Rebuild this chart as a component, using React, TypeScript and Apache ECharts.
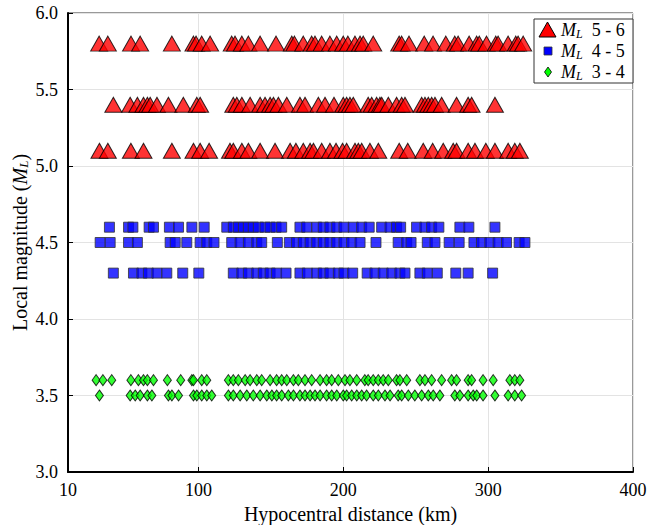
import React, { useEffect, useRef } from "react";
import * as echarts from "echarts";

// Hypocentral distances (km) for each magnitude row
const dist58 = [31.5, 37.5, 53.5, 59.8, 81.7, 96.6, 98.4, 102.3, 108.1, 123, 125.3, 130, 134.5, 142.6, 153.6, 164.5, 166.3, 172.4, 178.2, 180.5, 185.1, 190.8, 195.5, 200, 203.2, 208.1, 211.6, 213.8, 220.7, 238.6, 240.3, 245.4, 255.9, 262, 270.8, 277, 279.3, 286.9, 292.1, 293.9, 298.9, 305.3, 306.9, 313.8, 319.1, 320.7, 324.2];
const dist54 = [41.3, 52.9, 57.9, 62.1, 64.8, 66.7, 71.4, 79.3, 89.6, 98.9, 101.2, 124.1, 126.5, 130, 135.7, 142.6, 146, 149.5, 151.8, 155.2, 161, 170.1, 173.6, 182.8, 187.4, 193.6, 200, 202.3, 204.6, 206.9, 217.2, 219.6, 223, 225.3, 226.5, 231.1, 236.8, 240.3, 242.6, 254.1, 256.4, 258.7, 261, 263.3, 267.9, 278.2, 286.2, 288.6, 304.7];
const dist51 = [31.7, 37.5, 53.4, 62.1, 81.7, 96.6, 101.2, 107.4, 121.8, 124.1, 130, 134.5, 142.6, 152.9, 163.3, 167.3, 172.4, 177.1, 179.4, 185.1, 190.8, 195, 199.5, 202.3, 208.1, 210.4, 212.7, 218.4, 224.2, 238.6, 244.5, 255.2, 261.7, 269, 275.9, 278.2, 286.2, 290.9, 298.4, 304.7, 313.8, 318.4, 321.9];
const dist46 = [38.6, 51.8, 54.8, 66, 69, 80, 86.3, 95.5, 104, 119.6, 124.1, 127.6, 131.1, 134.5, 137.9, 141.4, 146, 149.5, 153.6, 157.5, 170.1, 174.8, 181.7, 186.2, 190.8, 195.5, 200.5, 206.9, 212.7, 217.9, 226.5, 232.3, 236.8, 239.6, 250.6, 256.4, 261, 266, 280.5, 286.7, 304.7];
const dist45 = [32.2, 39.1, 51.8, 57.9, 80.5, 84, 92, 101.2, 105.8, 110.8, 123, 128.8, 134.5, 140.3, 143.7, 154.5, 162.8, 167.8, 172.4, 177.1, 181.7, 186.2, 190.8, 195.5, 200.5, 205.8, 211.6, 222.6, 237.9, 243.8, 246.8, 258, 263.3, 273.1, 280, 290.2, 295.4, 301.2, 306.9, 312.7, 321.4, 325.4];
const dist43 = [41.3, 55.2, 61, 65.5, 71.4, 78.2, 89.2, 100.3, 124.1, 130, 134.5, 140.3, 144.8, 149.5, 154, 160.5, 170.1, 175.2, 181.7, 186.2, 190.8, 196.6, 200.5, 206.5, 216.5, 221.9, 227.6, 233.5, 239.1, 242.6, 252.9, 258, 264.9, 277.7, 286.2, 303.1];
const dist36 = [29.4, 34.1, 40.2, 53.4, 58.6, 62.1, 64.8, 69, 78.6, 87.8, 95.5, 96.6, 102.3, 105.8, 120.7, 124.1, 127.6, 132.3, 135.7, 140.3, 143.7, 149.5, 154, 157.5, 161, 165.6, 169, 173.6, 178.2, 184, 188.5, 192, 196.6, 201.2, 204.6, 209.3, 214.9, 217.2, 220.7, 224.2, 227.6, 231.1, 236.8, 239.1, 243.8, 252.9, 256.4, 261, 267.9, 274.8, 278.2, 286.2, 288.6, 296.5, 303.5, 315, 318.4, 321.9];
const dist35 = [31.7, 52.9, 56.4, 59.8, 64.8, 67.9, 79.3, 81.7, 86.3, 96.6, 98.9, 102.3, 105.8, 109.2, 120.7, 124.1, 128.8, 133.4, 137.9, 142.6, 147.2, 150.7, 154, 157.5, 162.1, 165.6, 170.1, 173.6, 177.1, 180.5, 184, 188.5, 192, 195.5, 200, 202.3, 205.8, 209.3, 212.7, 216.1, 220.7, 224.2, 228.8, 232.3, 237.9, 240.3, 244.9, 249.4, 254.1, 258.7, 262.1, 266.7, 277, 280.5, 286.2, 289.7, 292.1, 296.5, 304.7, 313.8, 318.4, 323.1];

const redRows: [number, number[]][] = [[5.8, dist58], [5.4, dist54], [5.1, dist51]];
const blueRows: [number, number[]][] = [[4.6, dist46], [4.5, dist45], [4.3, dist43]];
const greenRows: [number, number[]][] = [[3.6, dist36], [3.5, dist35]];

const xTicks = [10, 100, 200, 300, 400];
const legendLabels = ["5 - 6", "4 - 5", "3 - 4"];

const FONT = "Liberation Serif";

function pairs(rows: [number, number[]][]) {
  const out: number[][] = [];
  rows.forEach(([m, ds]) => ds.forEach((d) => out.push([d, m])));
  return out;
}

export default function App() {
  const ref = useRef<HTMLDivElement>(null);
  useEffect(() => {
    const chart = echarts.init(ref.current!, null, { renderer: "svg" });
    const legendRich = {
      m: { fontFamily: FONT, fontStyle: "italic", fontSize: 18, color: "#000" },
      s: { fontFamily: FONT, fontStyle: "italic", fontSize: 12, color: "#000", padding: [8, 0, 0, 0] },
      t: { fontFamily: FONT, fontSize: 18, color: "#000" },
    };
    const lx = 534, ly = 19;
    chart.setOption({
      animation: false,
      grid: {
        left: 68, right: 29, top: 13, bottom: 53,
        outerBoundsMode: "none", containLabel: false,
        show: true, borderColor: "#333", borderWidth: 1,
      },
      xAxis: {
        type: "value",
        min: 10,
        max: 400,
        name: "Hypocentral distance (km)",
        nameLocation: "middle",
        nameGap: 32,
        nameMoveOverlap: false,
        nameTextStyle: { fontFamily: FONT, fontSize: 20, color: "#000" },
        axisLine: { show: true, lineStyle: { color: "#000", width: 2 } },
        axisTick: { show: true, inside: true, length: 5, customValues: xTicks, lineStyle: { color: "#000" } },
        axisLabel: { customValues: xTicks, fontFamily: FONT, fontSize: 18, color: "#000", margin: 9 },
        splitLine: { show: true, lineStyle: { color: "#e3e3e3", width: 1 } },
      },
      yAxis: {
        type: "value",
        min: 3,
        max: 6,
        interval: 0.5,
        name: "Local magnitude ({m|M}{s|L})",
        nameLocation: "middle",
        nameGap: 38,
        nameMoveOverlap: false,
        nameRotate: 90,
        nameTextStyle: {
          fontFamily: FONT,
          fontSize: 20,
          color: "#000",
          rich: {
            m: { fontFamily: FONT, fontStyle: "italic", fontSize: 20, color: "#000" },
            s: { fontFamily: FONT, fontStyle: "italic", fontSize: 13, color: "#000", padding: [8, 0, 0, 0] },
          },
        },
        axisLine: { show: true, lineStyle: { color: "#000", width: 2 } },
        axisTick: { show: true, inside: true, length: 5, lineStyle: { color: "#000" } },
        axisLabel: { fontFamily: FONT, fontSize: 18, color: "#000", margin: 10, formatter: (v: number) => v.toFixed(1) },
        splitLine: { show: true, lineStyle: { color: "#e3e3e3", width: 1 } },
      },
      series: [
        {
          type: "scatter",
          name: "ML 5 - 6",
          symbol: "triangle",
          symbolSize: [17, 15],
          itemStyle: { color: "#ff0000", borderColor: "#000", borderWidth: 1 },
          data: pairs(redRows),
        },
        {
          type: "scatter",
          name: "ML 4 - 5",
          symbol: "rect",
          symbolSize: 10,
          itemStyle: { color: "#0000ff", borderColor: "#333", borderWidth: 1 },
          data: pairs(blueRows),
        },
        {
          type: "scatter",
          name: "ML 3 - 4",
          symbol: "diamond",
          symbolSize: [8, 11],
          itemStyle: { color: "#00ff00", borderColor: "#000", borderWidth: 1 },
          data: pairs(greenRows),
        },
      ],
      graphic: [
        {
          type: "rect",
          shape: { x: lx, y: ly, width: 99, height: 64 },
          style: { fill: "#fff", stroke: "#333", lineWidth: 1 },
          z: 100,
        },
        {
          type: "polygon",
          shape: { points: [[lx + 5, ly + 18], [lx + 22, ly + 18], [lx + 13.5, ly + 3]] },
          style: { fill: "#ff0000", stroke: "#000", lineWidth: 1 },
          z: 101,
        },
        {
          type: "rect",
          shape: { x: lx + 10, y: ly + 28, width: 8, height: 8 },
          style: { fill: "#0000ff", stroke: "#333", lineWidth: 0.8 },
          z: 101,
        },
        {
          type: "polygon",
          shape: { points: [[lx + 14, ly + 48], [lx + 17.5, ly + 53], [lx + 14, ly + 58], [lx + 10.5, ly + 53]] },
          style: { fill: "#00ff00", stroke: "#000", lineWidth: 0.8 },
          z: 101,
        },
        ...legendLabels.map((lab, i) => ({
          type: "text",
          x: lx + 27,
          y: ly + 11 + i * 21,
          z: 101,
          style: {
            text: "{m|M}{s|L}{t|  " + lab + "}",
            rich: legendRich,
            verticalAlign: "middle",
            fill: "#000",
          },
        })),
      ],
    });
    return () => chart.dispose();
  }, []);
  return <div ref={ref} style={{ position: "fixed", left: 0, top: 0, width: 662, height: 525, background: "#fff" }} />;
}
